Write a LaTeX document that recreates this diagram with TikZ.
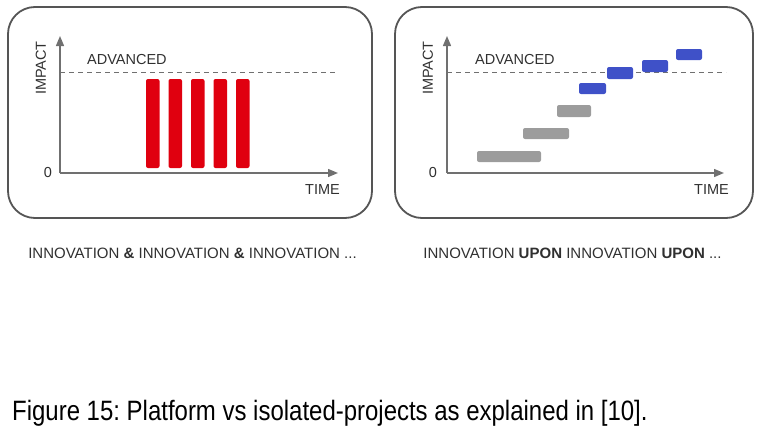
\documentclass[tikz,border=0pt]{standalone}
\usepackage{fontspec}
\setmainfont{Liberation Sans}
\usetikzlibrary{arrows.meta}
\frenchspacing
\definecolor{frame}{HTML}{555555}
\definecolor{axis}{HTML}{707070}
\definecolor{barred}{HTML}{E0000F}
\definecolor{bargray}{HTML}{9C9C9C}
\definecolor{barblue}{HTML}{3F51C8}
\definecolor{labeltext}{HTML}{303030}
\tikzset{
  panel/.style={draw=frame, line width=1.8pt, rounded corners=27pt},
  axisline/.style={draw=axis, line width=1.4pt, -{Triangle[length=10pt,width=8pt]}},
  advline/.style={draw=axis, line width=1pt, dash pattern=on 5pt off 4pt},
  lbl/.style={font=\fontsize{14.5}{15}\selectfont, text=labeltext, inner sep=0pt},
  sub/.style={font=\fontsize{15}{16}\selectfont, text=labeltext, inner sep=0pt},
  redbar/.style={fill=barred, draw=none, rounded corners=2pt},
  graybar/.style={fill=bargray, draw=none, rounded corners=2pt},
  bluebar/.style={fill=barblue, draw=none, rounded corners=2pt},
}
\begin{document}
\begin{tikzpicture}[x=1pt,y=-1pt]
\useasboundingbox (0,0) rectangle (761,431);
% ---------- left panel ----------
\draw[panel] (8,7) rectangle (372,218);
\coordinate (LO) at (60,173);
\coordinate (LY) at (60,36);
\coordinate (LX) at (338,173);
\draw[axisline] (LO) -- (LY);
\draw[axisline] (LO) -- (LX);
\coordinate (LD1) at (60,72);
\coordinate (LD2) at (338,72);
\draw[advline] (LD1) -- (LD2);
\node[lbl, anchor=west] (ladv) at (87,60) {ADVANCED};
\node[lbl] (lzero) at (48,173) {0};
\node[lbl, rotate=90] (limp) at (41,68) {IMPACT};
\node[lbl, anchor=east] (ltime) at (340,190) {TIME};
\foreach \x [count=\i] in {146,168.5,191,213.5,236}{
  \fill[redbar] (\x,79) rectangle ++(13.5,89);
}
\node[sub] (lsub) at (192.5,253) {INNOVATION \textbf{\&} INNOVATION \textbf{\&} INNOVATION ...};
% ---------- right panel ----------
\draw[panel] (395,7) rectangle (753,218);
\coordinate (RO) at (447,173);
\coordinate (RY) at (447,36);
\coordinate (RX) at (724,173);
\draw[axisline] (RO) -- (RY);
\draw[axisline] (RO) -- (RX);
\coordinate (RD1) at (447,72);
\coordinate (RD2) at (726,72);
\draw[advline] (RD1) -- (RD2);
\node[lbl, anchor=west] (radv) at (475,60) {ADVANCED};
\node[lbl] (rzero) at (433,173) {0};
\node[lbl, rotate=90] (rimp) at (428,68) {IMPACT};
\node[lbl, anchor=east] (rtime) at (729,190) {TIME};
\fill[graybar] (477,151) rectangle (541,162);
\fill[graybar] (523,128) rectangle (569,139);
\fill[graybar] (557,105) rectangle (591,117);
\fill[bluebar] (579,83) rectangle (606,94);
\fill[bluebar] (607,67) rectangle (633,79);
\fill[bluebar] (642,60) rectangle (668,72);
\fill[bluebar] (676,49) rectangle (702,60);
\node[sub] (rsub) at (572.5,253) {INNOVATION \textbf{UPON} INNOVATION \textbf{UPON} ...};
% ---------- caption ----------
\node[anchor=base west, inner sep=0pt, xscale=0.856, font=\fontsize{28}{30}\selectfont] (cap) at (12,420) {Figure 15: Platform vs isolated-projects as explained in [10].};
\end{tikzpicture}
\end{document}
